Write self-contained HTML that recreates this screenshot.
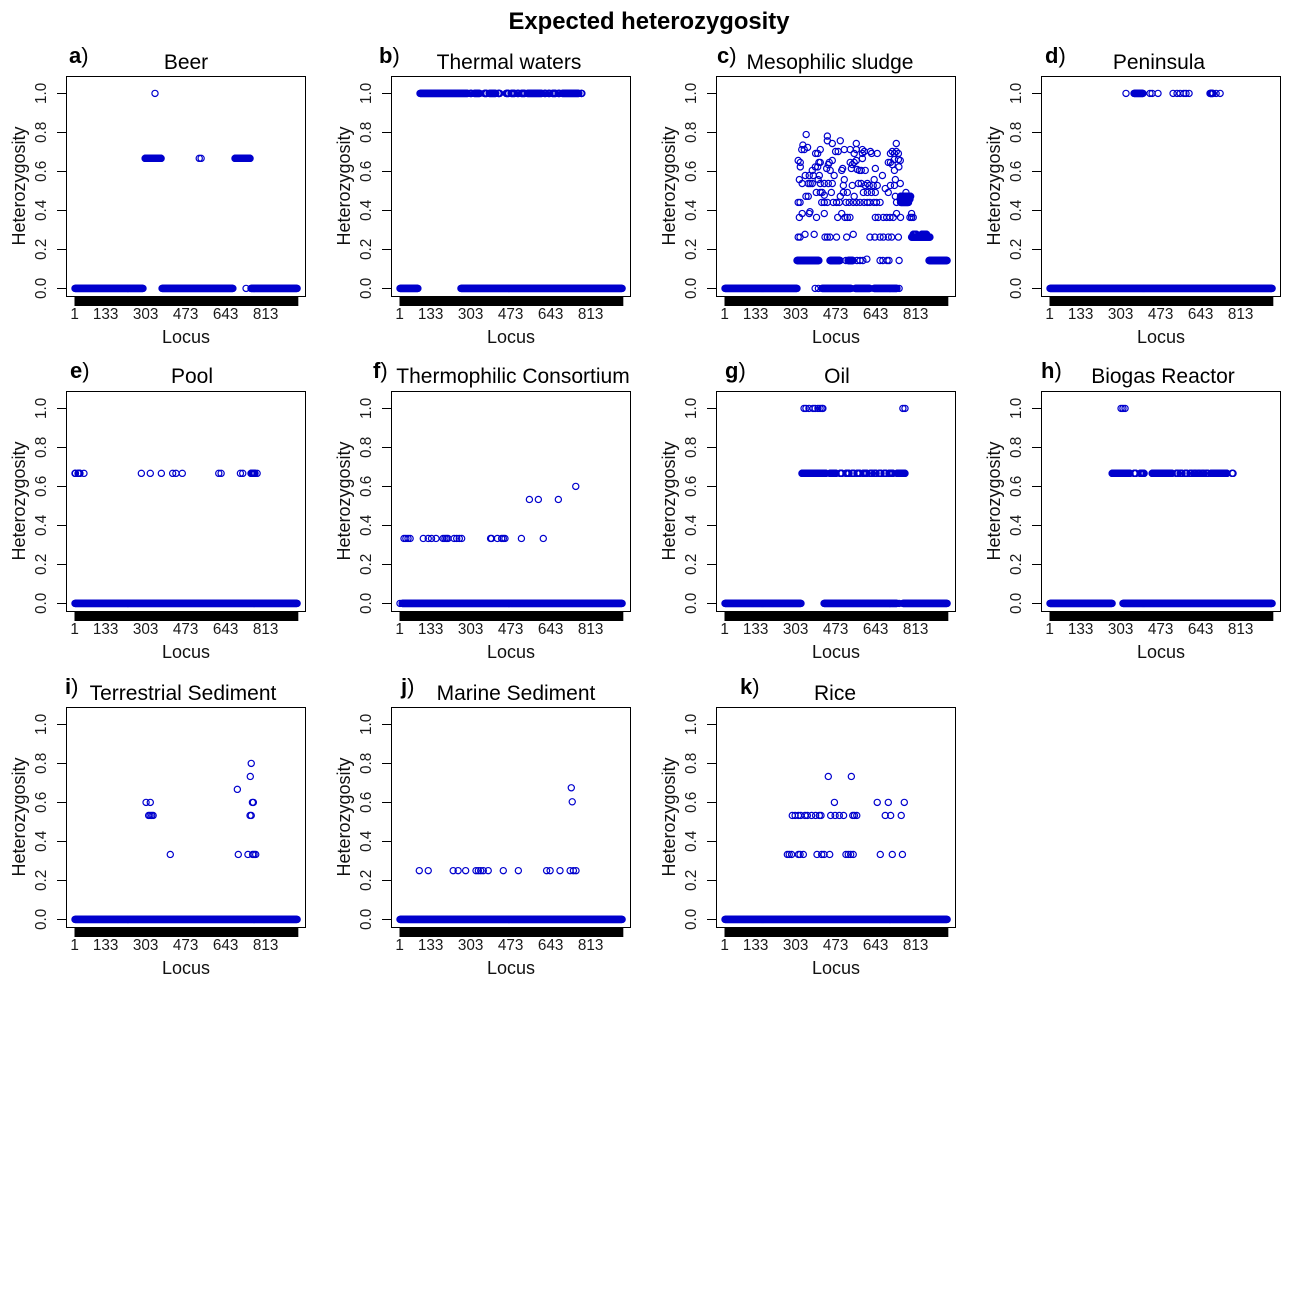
<!DOCTYPE html>
<html>
<head>
<meta charset="utf-8">
<title>Expected heterozygosity</title>
<style>
html,body{margin:0;padding:0;background:#fff}
svg{display:block}
text{font-family:"Liberation Sans",sans-serif;fill:#000}
.tick{font-size:15.3px;fill:#1a1a1a}
.axt{font-size:18px;fill:#111}
.ttl{font-size:21px}
.lab{font-size:22px}
.pt{fill:none;stroke:#0000cd;stroke-width:1.2}
</style>
</head>
<body>
<svg id="chart" xmlns="http://www.w3.org/2000/svg" width="1300" height="1300" viewBox="0 0 1300 1300">
<rect x="0" y="0" width="1300" height="1300" fill="#fff"/>
<text x="649" y="29" text-anchor="middle" font-weight="bold" font-size="24" textLength="281" lengthAdjust="spacingAndGlyphs">Expected heterozygosity</text>
</svg>
<script>
// Each row: [heterozygosity, [locus | [firstLocus, lastLocus], ...]]
const xTickLabels = [1, 133, 303, 473, 643, 813];
const yTickLabels = ["0.0", "0.2", "0.4", "0.6", "0.8", "1.0"];
const yTickValues = [0, 0.2, 0.4, 0.6, 0.8, 1];
const locusCount = 948;

const panelLetters = ["a", "b", "c", "d", "e", "f", "g", "h", "i", "j", "k"];
const panelTitles = ["Beer", "Thermal waters", "Mesophilic sludge", "Peninsula", "Pool", "Thermophilic Consortium", "Oil", "Biogas Reactor", "Terrestrial Sediment", "Marine Sediment", "Rice"];

const beerRows = [
  [0, [[1,290],[371,672],728,[749,945]]],
  [0.667, [[299,367],529,537,[681,745]]],
  [1, [341]]
];
const thermalRows = [
  [0, [[1,77],[260,945]]],
  [1, [[86,289],[299,306],[316,340],[359,370],[380,408],[418,425],[452,463],[473,489],[499,506],[516,532],[542,604],[614,621],[631,638],[648,663],[673,680],[690,761],[771,774]]]
];
const mesophilicRows = [
  [0, [[1,307],384,398,[413,537],[554,617],[634,732],741]],
  [0.143, [[307,400],[447,490],515,[524,545],562,575,587,660,672,690,698,741,[868,945]]],
  [0.15, [604]],
  [0.263, [312,320,426,436,447,475,518,617,638,660,674,695,709,738,[794,872]]],
  [0.277, [341,380,546,[801,815],[837,858]]],
  [0.364, [317,390,480,511,521,532,640,652,674,688,702,716,747,787,794,801]],
  [0.384, [329,359,423,497,730,794]],
  [0.393, [362]],
  [0.441, [312,320,412,423,436,461,475,487,515,529,546,560,575,592,606,617,634,645,660,730,[747,781]]],
  [0.458, [[745,787]]],
  [0.472, [345,355,491,550,725,[747,790]]],
  [0.478, [423]],
  [0.492, [389,406,414,453,504,521,589,606,623,640,695,770]],
  [0.512, [682]],
  [0.528, [504,542,597,614,631,648,704,721]],
  [0.538, [329,355,363,372,406,423,440,457,568,580,606,746]],
  [0.558, [317,397,508,635,725]],
  [0.579, [342,359,376,402,465,670]],
  [0.605, [372,448,497,572,580,597,721]],
  [0.61, [563]],
  [0.615, [433,501,538,640]],
  [0.623, [321,385,395,740]],
  [0.635, [440,542,712]],
  [0.646, [321,400,406,444,533,550,695,704]],
  [0.656, [312,457,559,746]],
  [0.661, [721,738]],
  [0.666, [585]],
  [0.692, [386,395,550,585,624,648,704,721,738]],
  [0.702, [471,482,593,619,712,729]],
  [0.712, [327,338,406,508,533,559,585]],
  [0.723, [352]],
  [0.735, [332]],
  [0.743, [457,559,729]],
  [0.757, [436,491]],
  [0.781, [436]],
  [0.789, [346]]
];
const peninsulaRows = [
  [0, [[1,945]]],
  [1, [324,[358,396],426,435,460,524,541,554,570,579,592,[681,694],707,724]]
];
const poolRows = [
  [0, [[1,945]]],
  [0.667, [[1,3],[14,22],39,283,321,368,416,430,457,612,622,704,714,[749,766],775]]
];
const thermophilicRows = [
  [0, [1,[10,945]]],
  [0.333, [18,26,35,44,100,121,135,154,184,192,199,205,231,242,253,263,386,390,415,433,440,447,517,610]],
  [0.533, [551,589,674]],
  [0.6, [748]]
];
const oilRows = [
  [0, [[1,324],[422,732],741,[757,945]]],
  [0.667, [[328,430],[447,473],[490,498],[515,528],[541,549],[562,574],[588,604],[618,626],[635,643],[656,664],[677,685],[698,715],[732,766]]],
  [1, [337,345,358,375,384,396,405,413,417,757,766]]
];
const biogasRows = [
  [0, [[1,265],[311,945]]],
  [0.667, [[265,341],[358,366],[384,401],[435,520],[537,545],[554,562],[575,583],[596,604],[613,621],[630,638],[647,655],[664,672],[685,753],[775,779]]],
  [1, [303,311,320]]
];
const terrestrialRows = [
  [0, [[1,945]]],
  [0.333, [406,695,736,756,762,769]],
  [0.533, [314,320,327,333,745,750]],
  [0.6, [303,321,755,759]],
  [0.667, [691]],
  [0.733, [746]],
  [0.8, [750]]
];
const marineRows = [
  [0, [[1,945]]],
  [0.25, [83,121,227,248,280,324,334,344,355,376,440,504,624,639,681,724,738,749]],
  [0.603, [733]],
  [0.675, [729]]
];
const riceRows = [
  [0, [[1,945]]],
  [0.333, [266,274,284,313,320,334,392,412,422,446,515,525,535,546,661,712,755]],
  [0.533, [287,299,313,323,341,351,369,386,402,409,450,469,487,505,544,551,561,682,705,750]],
  [0.6, [466,648,695,763]],
  [0.733, [440,538]]
];
const panelRows = [beerRows, thermalRows, mesophilicRows, peninsulaRows, poolRows, thermophilicRows, oilRows, biogasRows, terrestrialRows, marineRows, riceRows];

const titleCentersOffset = [120, 118, 114, 118, 126, 122, 121, 122, 117, 125, 119];
const letterLefts = [69, 379, 717, 1045, 70, 373, 725, 1041, 65, 401, 740];

const NS = "http://www.w3.org/2000/svg";
const svg = document.getElementById("chart");
const columnLefts = [66, 391, 716, 1041];
const rowTops = [76, 391, 707];
const titleBaselineOffsets = [7, 8, 7];
const PANEL_W = 239, PANEL_H = 220, PX_PER_LOCUS = 40 / 170, PX_PER_HET = 195;

function node(parent, tag, attrs, txt) {
  const el = document.createElementNS(NS, tag);
  for (const k in attrs) el.setAttribute(k, attrs[k]);
  if (txt !== undefined) el.textContent = txt;
  parent.appendChild(el);
  return el;
}

panelRows.forEach(function (rows, p) {
  const rowIndex = Math.floor(p / 4);
  const left = columnLefts[p % 4];
  const top = rowTops[rowIndex];
  const xScale = function (locus) { return left + 9 + (locus - 1) * PX_PER_LOCUS; };
  const yScale = function (h) { return top + 212.4 - h * PX_PER_HET; };

  const g = node(svg, "g", {});
  
  

  // panel letter
  const lab = node(g, "text", {x: letterLefts[p], y: top - 13, "class": "lab"});
  
  
  node(lab, "tspan", {"font-weight": "bold"}, panelLetters[p]);
  node(lab, "tspan", {}, ")");

  // title
  const ttl = node(g, "text", {x: left + titleCentersOffset[p], y: top - titleBaselineOffsets[rowIndex], "text-anchor": "middle", "class": "ttl"}, panelTitles[p]);
  
  

  // y ticks + labels
  yTickValues.forEach(function (v, i) {
    const y = Math.round(yScale(v)) + 0.5;
    const t = node(g, "line", {x1: left - 9, x2: left, y1: y, y2: y, stroke: "#000", "stroke-width": 1});
    
    
    const lx = left - 20, ly = yScale(v);
    const l = node(g, "text", {x: lx, y: ly, "text-anchor": "middle", "class": "tick", transform: "rotate(-90 " + lx + " " + ly + ")"}, yTickLabels[i]);
    
    
  });

  // y title
  const ytx = left - 41, yty = top + 110;
  const yTitle = node(g, "text", {x: ytx, y: yty, "text-anchor": "middle", "class": "axt", transform: "rotate(-90 " + ytx + " " + yty + ")"}, "Heterozygosity");
  
  

  // x axis ticks: one per locus, merging into a black band
  let d = "";
  for (let i = 1; i <= locusCount; i++) d += "M" + xScale(i).toFixed(2) + " " + (top + 220) + "V" + (top + 230);
  const rug = node(g, "path", {d: d, stroke: "#000", "stroke-width": 1, fill: "none"});
  
  

  xTickLabels.forEach(function (v) {
    const l = node(g, "text", {x: xScale(v) - 0.4, y: top + 243, "text-anchor": "middle", "class": "tick"}, String(v));
    
    
  });

  const xTitle = node(g, "text", {x: left + 120, y: top + 267, "text-anchor": "middle", "class": "axt"}, "Locus");
  
  

  // points
  rows.forEach(function (row) {
    const h = row[0];
    row[1].forEach(function (item) {
      const first = Array.isArray(item) ? item[0] : item;
      const last = Array.isArray(item) ? item[1] : item;
      for (let locus = first; locus <= last; locus++) {
        const c = node(g, "circle", {cx: xScale(locus).toFixed(2), cy: yScale(h).toFixed(2), r: 3.1, "class": "pt"});
        
        
      }
    });
  });

  // frame
  const box = node(g, "rect", {x: left + 0.5, y: top + 0.5, width: PANEL_W, height: PANEL_H, fill: "none", stroke: "#000", "stroke-width": 1});
  
  
});
</script>
</body>
</html>
